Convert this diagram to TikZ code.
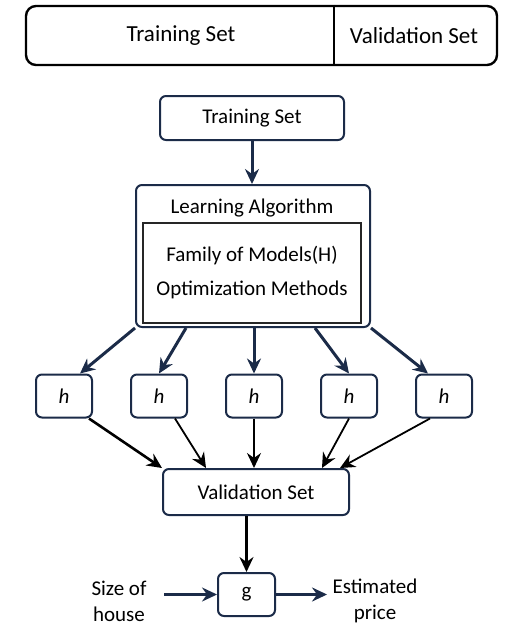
\documentclass[tikz,border=0pt]{standalone}
\usepackage{fontspec}
\setmainfont{Carlito}
\usetikzlibrary{arrows.meta,positioning,calc}
\definecolor{navy}{HTML}{1B2B48}
\tikzset{
  box/.style={rectangle, rounded corners=6pt, draw=navy, line width=2pt, fill=white},
  hbox/.style={box, minimum width=56pt, minimum height=43pt, font=\fontsize{21}{24}\selectfont\itshape},
  feed/.style={->, draw=navy, line width=3pt},
  pick/.style={->, draw=black, line width=1.8pt},
  >={Stealth[length=15pt,width=14pt,inset=5pt]}
}
\begin{document}
\begin{tikzpicture}[x=1pt, y=-1pt, every node/.style={font=\fontsize{21}{24}\selectfont}]
  \useasboundingbox (0,0) rectangle (531,635);
  % data split
  \node (split) at (261.5,35.5) [draw, line width=2.4pt, rounded corners=10pt, minimum width=471pt, minimum height=59pt] {};
  \node (trainpart) at (181,36) [font=\fontsize{23}{26}\selectfont] {Training Set};
  \node (validpart) at (414,36) [font=\fontsize{23}{26}\selectfont] {Validation Set};
  \draw[line width=2.4pt] ([xshift=72.5pt]split.north) -- ([xshift=72.5pt]split.south);

  \node (train) at (252,118) [box, minimum width=184pt, minimum height=44pt] {Training Set};
  \node (learn) at (253,256) [box, minimum width=234pt, minimum height=142pt] {};
  \node (learntitle) at (252,208) {Learning Algorithm};
  \node (models) at (252,273) [draw=black!85, line width=1.5pt, minimum width=218pt, minimum height=100pt, align=center] {Family of Models(H)\\[10pt]Optimization Methods};

  \node (h1) at (64,396) [hbox] {h};
  \node (h2) [right=37pt of h1, hbox] {h};
  \node (h3) [right=37pt of h2, hbox] {h};
  \node (h4) [right=37pt of h3, hbox] {h};
  \node (h5) [right=37pt of h4, hbox] {h};

  \node (valid) at (256,492) [box, minimum width=186pt, minimum height=46pt] {Validation Set};
  \node (g) at (246.5,594.5) [box, minimum width=57pt, minimum height=43pt] {g};
  \node (size) at (119,601) [align=center] {Size of\\[2pt]house};
  \node (price) at (375,601) [align=center] {Estimated\\[2pt]price};
  \coordinate (sizeend) at ([xshift=14pt]size.east);
  \coordinate (pricestart) at ([xshift=-2pt]price.west);

  \draw[feed] (train.south) -- (train.south |- learn.north);
  \draw[feed] (learn.south west) -- ([xshift=16pt]h1.north);
  \draw[feed] ([xshift=-67pt]learn.south) -- (h2.north);
  \draw[feed] (h3.north |- learn.south) -- (h3.north);
  \draw[feed] ([xshift=62pt]learn.south) -- (h4.north);
  \draw[feed] (learn.south east) -- ([xshift=-16pt]h5.north);

  \draw[pick, line width=2.6pt] ([xshift=-4pt]h1.south east) -- (valid.north west);
  \draw[pick] ([xshift=16pt]h2.south) -- ([xshift=-50pt]valid.north);
  \draw[pick] (h3.south) -- (h3.south |- valid.north);
  \draw[pick] (h4.south) -- ([xshift=66pt]valid.north);
  \draw[pick] ([xshift=-14pt]h5.south) -- ([xshift=84pt]valid.north);

  \draw[pick, line width=2.4pt] (g.north |- valid.south) -- (g.north);
  \draw[feed] (sizeend |- g.west) -- (g.west);
  \draw[feed] (g.east) -- (pricestart |- g.east);
\end{tikzpicture}
\end{document}
